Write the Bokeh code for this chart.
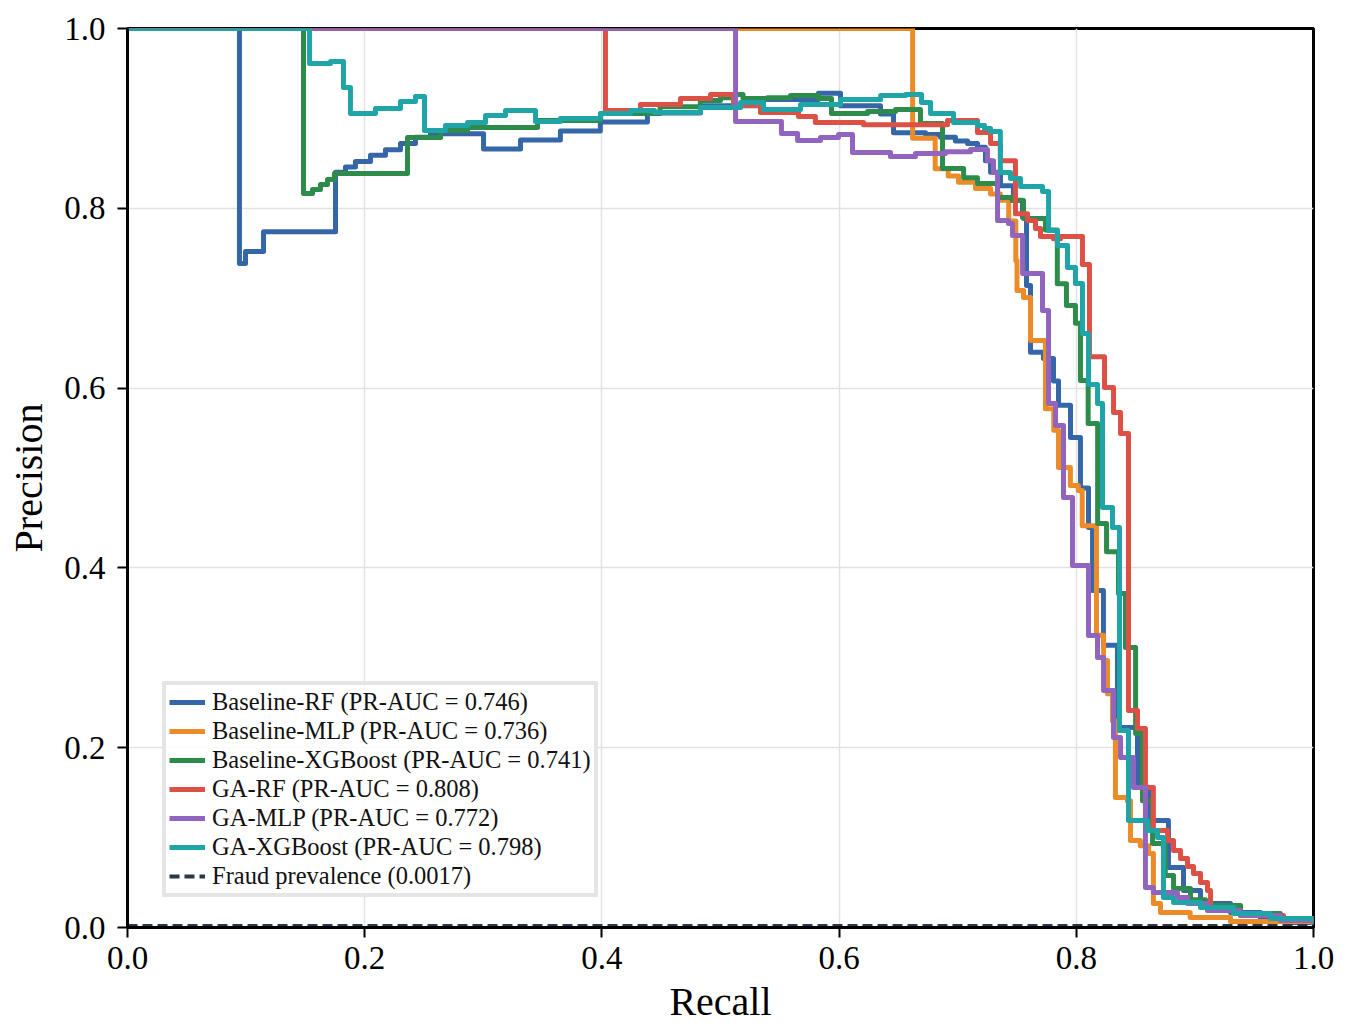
from bokeh.plotting import figure
from bokeh.models import Range1d, FixedTicker, PrintfTickFormatter, Legend, LegendItem
from bokeh.embed import file_html
from bokeh.resources import INLINE

# ---------------- data ----------------
rf_recall = [0.0, 0.0944, 0.0995, 0.1147, 0.1754, 0.1838, 0.1922, 0.2049, 0.2175, 0.2302,
             0.2428, 0.2555, 0.3002, 0.3314, 0.3650, 0.3987, 0.4384, 0.4831, 0.5337, 0.5826,
             0.6012, 0.6349, 0.6459, 0.6729, 0.6855, 0.6981, 0.7083, 0.7167, 0.7234, 0.7277,
             0.7361, 0.7470, 0.7546, 0.7580, 0.7614, 0.7723, 0.7808, 0.7850, 0.7951, 0.8035,
             0.8103, 0.8137, 0.8229, 0.8347, 0.8516, 0.8609, 0.8777, 0.8904, 0.9047, 0.9300,
             0.9553, 0.9806, 1.0]
rf_precision = [1.0, 0.7386, 0.752, 0.774, 0.840, 0.846, 0.852, 0.859, 0.865, 0.872,
                0.879, 0.883, 0.866, 0.876, 0.886, 0.896, 0.906, 0.914, 0.921, 0.928,
                0.914, 0.905, 0.884, 0.882, 0.879, 0.875, 0.872, 0.868, 0.853, 0.840,
                0.825, 0.809, 0.790, 0.714, 0.640, 0.633, 0.608, 0.581, 0.545, 0.489,
                0.445, 0.375, 0.314, 0.2225, 0.156, 0.119, 0.0667, 0.0412, 0.0267, 0.0167,
                0.010, 0.0056, 0.0033]

mlp_recall = [0.0, 0.662, 0.681, 0.692, 0.7007, 0.715, 0.7277, 0.736, 0.743, 0.749,
              0.750, 0.7555, 0.7614, 0.774, 0.781, 0.785, 0.795, 0.8017, 0.805, 0.817,
              0.823, 0.8263, 0.8305, 0.833, 0.843, 0.8457, 0.854, 0.861, 0.865, 0.871,
              0.896, 0.930, 1.0]
mlp_precision = [1.0, 0.878, 0.844, 0.836, 0.829, 0.822, 0.816, 0.809, 0.786, 0.742,
                 0.7086, 0.7008, 0.653, 0.577, 0.553, 0.5117, 0.4916, 0.486, 0.447, 0.325,
                 0.297, 0.260, 0.230, 0.1446, 0.141, 0.0968, 0.091, 0.0823, 0.0267, 0.0167,
                 0.0111, 0.0067, 0.0033]

xgb_recall = [0.0, 0.1484, 0.156, 0.1627, 0.1686, 0.1745, 0.2361, 0.264, 0.2867, 0.3457,
              0.399, 0.449, 0.483, 0.500, 0.5127, 0.519, 0.5396, 0.559, 0.5826, 0.5936,
              0.624, 0.6476, 0.6686, 0.6872, 0.705, 0.7167, 0.7336, 0.746, 0.7555, 0.774,
              0.784, 0.7917, 0.7993, 0.8035, 0.810, 0.818, 0.8255, 0.8356, 0.8415, 0.850,
              0.8558, 0.8643, 0.875, 0.882, 0.8963, 0.909, 0.9385, 0.972, 1.0]
xgb_precision = [1.0, 0.8165, 0.821, 0.8265, 0.832, 0.8387, 0.8787, 0.8865, 0.890, 0.8977,
                 0.9054, 0.913, 0.920, 0.923, 0.9266, 0.922, 0.923, 0.9255, 0.922, 0.9054,
                 0.9077, 0.910, 0.8943, 0.8443, 0.834, 0.8276, 0.812, 0.8087, 0.7887, 0.776,
                 0.716, 0.692, 0.672, 0.6085, 0.5606, 0.4494, 0.418, 0.3715, 0.3115, 0.2158,
                 0.141, 0.0934, 0.0578, 0.0434, 0.031, 0.0245, 0.0156, 0.0089, 0.0044]

ga_rf_recall = [0.0, 0.403, 0.4325, 0.4663, 0.4916, 0.511, 0.5337, 0.5658, 0.580, 0.6206,
                0.6914, 0.7167, 0.7277, 0.736, 0.7487, 0.7589, 0.7656, 0.7698, 0.7808, 0.7867,
                0.8052, 0.8111, 0.8238, 0.8314, 0.8373, 0.844, 0.8516, 0.8583, 0.865, 0.877,
                0.882, 0.8879, 0.8938, 0.8988, 0.9047, 0.9106, 0.9132, 0.9326, 0.9385, 0.9747,
                1.0]
ga_rf_precision = [1.0, 0.9088, 0.9155, 0.922, 0.9266, 0.9143, 0.9066, 0.902, 0.8954, 0.893,
                   0.8977, 0.8843, 0.872, 0.853, 0.794, 0.7865, 0.7775, 0.7686, 0.766, 0.7686,
                   0.7375, 0.635, 0.6007, 0.5728, 0.5495, 0.2414, 0.2214, 0.1557, 0.1079, 0.0968,
                   0.0857, 0.0768, 0.0679, 0.0601, 0.05, 0.0412, 0.0222, 0.0178, 0.0133, 0.01,
                   0.0078]

ga_mlp_recall = [0.0, 0.5127, 0.5514, 0.565, 0.5843, 0.5995, 0.6113, 0.6433, 0.6644, 0.6897,
                 0.7108, 0.7251, 0.7302, 0.7336, 0.7428, 0.7462, 0.7547, 0.7715, 0.7766, 0.7825,
                 0.7892, 0.7968, 0.8103, 0.8179, 0.823, 0.8314, 0.8373, 0.8482, 0.8583, 0.865,
                 0.8853, 0.8938, 0.9106, 0.9385, 0.9722, 1.0]
ga_mlp_precision = [1.0, 0.8966, 0.8832, 0.8754, 0.8788, 0.882, 0.862, 0.8576, 0.861, 0.863,
                    0.8654, 0.853, 0.8398, 0.7864, 0.783, 0.7698, 0.7275, 0.6863, 0.5829, 0.5584,
                    0.4783, 0.4027, 0.3248, 0.3003, 0.2636, 0.2113, 0.1891, 0.1557, 0.0445, 0.0389,
                    0.0334, 0.0267, 0.0189, 0.0133, 0.0078, 0.0044]

ga_xgb_recall = [0.0, 0.1535, 0.1712, 0.1821, 0.188, 0.2091, 0.2302, 0.2428, 0.2504, 0.2681,
                 0.2867, 0.3019, 0.3187, 0.344, 0.365, 0.3988, 0.4241, 0.4444, 0.4831, 0.5169,
                 0.5363, 0.5675, 0.6012, 0.635, 0.656, 0.6695, 0.6771, 0.6965, 0.7167, 0.7226,
                 0.7277, 0.736, 0.7445, 0.753, 0.7715, 0.7766, 0.7841, 0.7926, 0.7993, 0.8052,
                 0.8103, 0.8179, 0.8221, 0.8305, 0.8364, 0.844, 0.86, 0.8685, 0.8735, 0.882,
                 0.9047, 0.9326, 0.9637, 1.0]
ga_xgb_precision = [1.0, 0.961, 0.9633, 0.9344, 0.9054, 0.911, 0.9188, 0.9244, 0.8865, 0.8921,
                    0.8954, 0.9032, 0.9088, 0.8965, 0.900, 0.9054, 0.9088, 0.9066, 0.912, 0.9177,
                    0.9099, 0.9155, 0.921, 0.9255, 0.9266, 0.9177, 0.9054, 0.8954, 0.892, 0.8887,
                    0.8854, 0.8398, 0.8332, 0.8243, 0.8187, 0.7753, 0.7586, 0.7341, 0.7164, 0.6607,
                    0.604, 0.5829, 0.4672, 0.445, 0.2191, 0.119, 0.1079, 0.1001, 0.0334, 0.0278,
                    0.0222, 0.0156, 0.01, 0.0056]

series_labels = ["Baseline-RF (PR-AUC = 0.746)", "Baseline-MLP (PR-AUC = 0.736)",
                 "Baseline-XGBoost (PR-AUC = 0.741)", "GA-RF (PR-AUC = 0.808)",
                 "GA-MLP (PR-AUC = 0.772)", "GA-XGBoost (PR-AUC = 0.798)"]
prevalence = 0.0017
prevalence_label = "Fraud prevalence (0.0017)"
prevalence_x = [0.0, 1.0]
tick_values = [0.0, 0.2, 0.4, 0.6, 0.8, 1.0]

# ---------------- styling ----------------
colors = ["#3566a8", "#eb8c28", "#2d8c4b", "#dc5046", "#9164be", "#1fa5a8"]
FONT = "Liberation Serif"

p = figure(width=1338, height=1030, output_backend="svg", toolbar_location=None,
           x_range=Range1d(0, 1), y_range=Range1d(0, 1),
           min_border_left=127, min_border_right=25, min_border_top=28, min_border_bottom=103,
           background_fill_color="white", border_fill_color="white")

p.outline_line_color = "black"
p.outline_line_width = 3
p.outline_line_alpha = 1.0

for ax in (p.xaxis[0], p.yaxis[0]):
    ax.ticker = FixedTicker(ticks=tick_values)
    ax.formatter = PrintfTickFormatter(format="%.1f")
    ax.axis_line_color = "black"
    ax.axis_line_width = 3
    ax.major_tick_line_color = "black"
    ax.major_tick_line_width = 2
    ax.major_tick_out = 10
    ax.major_tick_in = 0
    ax.minor_tick_line_color = None
    ax.major_label_text_font = FONT
    ax.major_label_text_font_size = "33px"
    ax.major_label_text_color = "black"
    ax.axis_label_text_font = FONT
    ax.axis_label_text_font_size = "40px"
    ax.axis_label_text_font_style = "normal"
    ax.axis_label_text_color = "black"

p.xaxis.axis_label = "Recall"
p.yaxis.axis_label = "Precision"
p.xaxis.major_label_standoff = 9
p.yaxis.major_label_standoff = 12
p.xaxis.axis_label_standoff = 7
p.yaxis.axis_label_standoff = 10

for g in (p.xgrid[0], p.ygrid[0]):
    g.ticker = FixedTicker(ticks=tick_values)
    g.grid_line_color = "#e2e2e2"
    g.grid_line_width = 1.5

series = [
    (rf_recall, rf_precision),
    (mlp_recall, mlp_precision),
    (xgb_recall, xgb_precision),
    (ga_rf_recall, ga_rf_precision),
    (ga_mlp_recall, ga_mlp_precision),
    (ga_xgb_recall, ga_xgb_precision),
]

items = []
for (rx, py), col, lab in zip(series, colors, series_labels):
    r = p.step(x=rx, y=py, mode="after", line_color=col, line_width=5,
               line_join="round")
    items.append(LegendItem(label=lab, renderers=[r]))

r_prev = p.line(x=prevalence_x, y=[prevalence, prevalence], line_color="#2b3646",
                line_width=4, line_dash="10 5")
items.append(LegendItem(label=prevalence_label, renderers=[r_prev]))

legend = Legend(items=items, location=(35, 30), orientation="vertical")
legend.label_text_font = FONT
legend.label_text_font_size = "24.5px"
legend.label_text_color = "#111111"
legend.glyph_width = 36
legend.glyph_height = 24
legend.label_height = 24
legend.label_standoff = 7
legend.spacing = 1
legend.padding = 3
legend.margin = 0
legend.border_line_color = "#cccccc"
legend.border_line_width = 4
legend.background_fill_color = "white"
legend.background_fill_alpha = 0.85
p.add_layout(legend)

open("out.html", "w").write(file_html(p, INLINE))
